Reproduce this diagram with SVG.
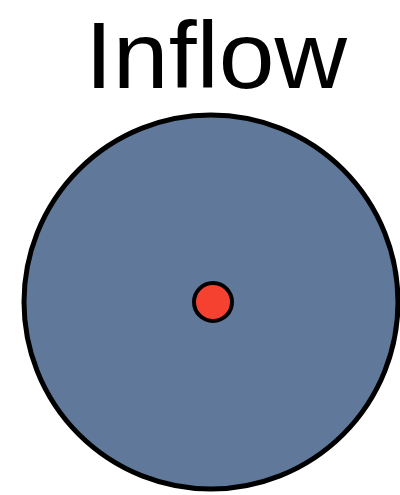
<svg xmlns="http://www.w3.org/2000/svg" width="400" height="495" viewBox="0 0 400 495">
<style>
.title{font-family:"Liberation Sans","Lato",sans-serif;font-size:95px;fill:#000}
</style>
<rect width="400" height="495" fill="#fff"/>
<text class="title" x="85" y="88" textLength="262" lengthAdjust="spacingAndGlyphs">Inflow</text>
<g id="disk">
<circle cx="211" cy="302" r="187" fill="#60799a" stroke="#000" stroke-width="5"/>
</g>
<g id="source">
<circle cx="213" cy="302" r="19" fill="#f5412f" stroke="#000" stroke-width="4"/>
</g>
</svg>
